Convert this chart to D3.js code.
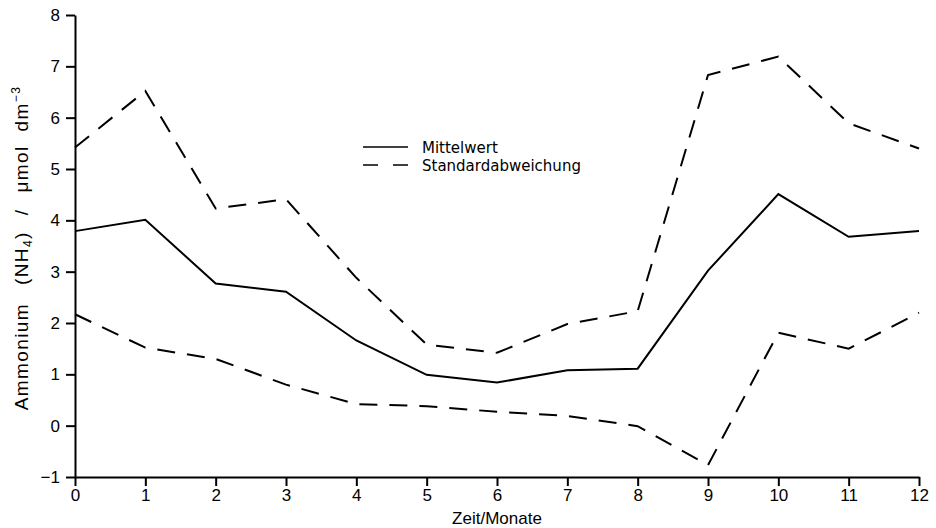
<!DOCTYPE html>
<html lang="de">
<head>
    <meta charset="UTF-8" />
    <title>Ammonium Mittelwert</title>
    <script src="https://d3js.org/d3.v7.min.js"></script>
    <style>
        body { margin: 0; background: #fff; }
        svg { display: block; }
        text { font-family: "Liberation Sans", Arial, sans-serif; fill: #000; }
        .legend text { font-family: "DejaVu Sans", sans-serif; }
    </style>
</head>
<body>
    <svg id="chart"></svg>
    <script>
        // data
        const months = [0, 1, 2, 3, 4, 5, 6, 7, 8, 9, 10, 11, 12];
        const mean  = [3.79, 4.01, 2.77, 2.61, 1.66, 0.99, 0.84, 1.08, 1.11, 3.02, 4.51, 3.68, 3.79];
        const upper = [5.42, 6.52, 4.23, 4.41, 2.88, 1.58, 1.42, 1.98, 2.23, 6.83, 7.19, 5.89, 5.40];
        const lower = [2.17, 1.52, 1.30, 0.80, 0.42, 0.38, 0.27, 0.19, -0.01, -0.77, 1.81, 1.50, 2.20];
        const yTicks = [-1, 0, 1, 2, 3, 4, 5, 6, 7, 8];
        const legendLabels = ["Mittelwert", "Standardabweichung"];

        const width = 936, height = 528;
        const margin = { left: 75, right: 17, top: 15, bottom: 51 };

        const svg = d3.select("#chart")
            .attr("width", width)
            .attr("height", height);

        const x = d3.scaleLinear().domain([0, 12]).range([margin.left, width - margin.right]);
        const y = d3.scaleLinear().domain([-1, 8]).range([height - margin.bottom, margin.top]);

        // axes
        const xAxis = svg.append("g")
            .attr("transform", `translate(0,${y(-1)})`)
            .call(d3.axisBottom(x).tickValues(months).tickFormat(d3.format("d")).tickSize(9).tickSizeOuter(0));
        xAxis.select(".domain").attr("stroke-width", 2);
        xAxis.selectAll(".tick line").attr("stroke-width", 2);
        xAxis.selectAll(".tick text").attr("font-size", 17).attr("dy", "0.8em").attr("y", 10);

        const yAxis = svg.append("g")
            .attr("transform", `translate(${x(0)},0)`)
            .call(d3.axisLeft(y).tickValues(yTicks).tickFormat(d => d < 0 ? "\u2212" + Math.abs(d) : d).tickSize(9).tickSizeOuter(0));
        yAxis.select(".domain").attr("stroke-width", 2);
        yAxis.selectAll(".tick line").attr("stroke-width", 2);
        yAxis.selectAll(".tick text").attr("font-size", 17).attr("x", -15);

        // lines
        const line = d3.line().x((d, i) => x(months[i])).y(d => y(d));

        svg.append("path").datum(mean)
            .attr("d", line).attr("fill", "none")
            .attr("stroke", "#000").attr("stroke-width", 2);

        [upper, lower].forEach(s => {
            svg.append("path").datum(s)
                .attr("d", line).attr("fill", "none")
                .attr("stroke", "#000").attr("stroke-width", 2)
                .attr("stroke-dasharray", "18,12");
        });

        // legend
        const legend = svg.append("g").attr("class", "legend").attr("transform", "translate(363,147)");
        legendLabels.forEach((lab, i) => {
            legend.append("line")
                .attr("x1", 0).attr("x2", 45)
                .attr("y1", i * 18).attr("y2", i * 18)
                .attr("stroke", "#000").attr("stroke-width", 1.6)
                .attr("stroke-dasharray", i === 1 ? "15,15" : null);
            legend.append("text")
                .attr("x", 59).attr("y", i * 18 + 6)
                .attr("font-size", 15)
                .text(lab);
        });

        // axis titles
        svg.append("text")
            .attr("x", x(6)).attr("y", 524)
            .attr("text-anchor", "middle")
            .attr("font-size", 17)
            .text("Zeit/Monate");

        const yt = svg.append("text")
            .attr("transform", "translate(28,248) rotate(-90)")
            .attr("text-anchor", "middle")
            .attr("font-size", 19)
            .attr("letter-spacing", 1.4);
        yt.append("tspan").text("Ammonium");
        yt.append("tspan").attr("dx", 18).text("(NH");
        yt.append("tspan").attr("font-size", 12).attr("dy", 4).text("4");
        yt.append("tspan").attr("dy", -4).text(")");
        yt.append("tspan").attr("dx", 16).text("/");
        yt.append("tspan").attr("dx", 16).text("\u03bcmol");
        yt.append("tspan").attr("dx", 14).text("dm");
        yt.append("tspan").attr("font-size", 12).attr("dy", -8).text("\u22123");
    </script>
</body>
</html>
